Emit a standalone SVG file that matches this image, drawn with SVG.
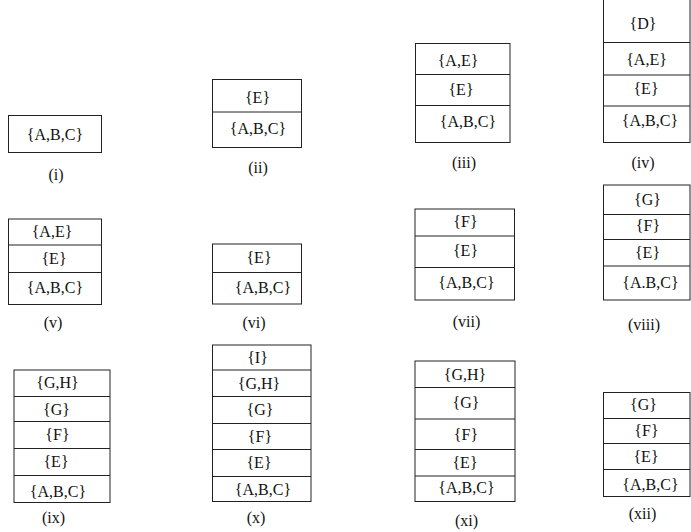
<svg xmlns="http://www.w3.org/2000/svg" width="691" height="532" viewBox="0 0 691 532" font-family="'Liberation Serif', 'Times New Roman', serif" font-size="16">
<style>
.b{fill:#fff;stroke:#222;stroke-width:1}
.d{stroke:#222;stroke-width:1}
text{font-family:"Liberation Serif","Times New Roman",serif;font-size:16px;fill:#111;text-anchor:middle}
</style>
<rect width="691" height="532" fill="#fff"/>
<g id="s1">
<rect class="b" x="8.5" y="115.5" width="93" height="37"/>
<text x="55" y="140">{A,B,C}</text>
<text x="56" y="180">(i)</text>
</g>
<g id="s2">
<rect class="b" x="212.5" y="79.5" width="89" height="68"/>
<line class="d" x1="212.5" y1="112" x2="301.5" y2="112"/>
<text x="257.5" y="103">{E}</text>
<text x="258" y="134">{A,B,C}</text>
<text x="258" y="173">(ii)</text>
</g>
<g id="s3">
<rect class="b" x="415.5" y="43.5" width="94.5" height="99"/>
<line class="d" x1="415.5" y1="74.5" x2="510" y2="74.5"/>
<line class="d" x1="415.5" y1="105.5" x2="510" y2="105.5"/>
<text x="458" y="66">{A,E}</text>
<text x="461" y="95">{E}</text>
<text x="468" y="127">{A,B,C}</text>
<text x="464" y="168">(iii)</text>
</g>
<g id="s4">
<rect class="b" x="603.5" y="-1" width="86.5" height="143.5"/>
<line class="d" x1="603.5" y1="42.5" x2="690" y2="42.5"/>
<line class="d" x1="603.5" y1="75" x2="690" y2="75"/>
<line class="d" x1="603.5" y1="106" x2="690" y2="106"/>
<text x="643" y="29">{D}</text>
<text x="646.5" y="65">{A,E}</text>
<text x="646" y="94">{E}</text>
<text x="650" y="126">{A,B,C}</text>
<text x="643" y="168">(iv)</text>
</g>
<g id="s5">
<rect class="b" x="8.5" y="219" width="93" height="85.5"/>
<line class="d" x1="8.5" y1="245" x2="101.5" y2="245"/>
<line class="d" x1="8.5" y1="272.5" x2="101.5" y2="272.5"/>
<text x="52" y="237">{A,E}</text>
<text x="54" y="264">{E}</text>
<text x="55" y="293">{A,B,C}</text>
<text x="53" y="328">(v)</text>
</g>
<g id="s6">
<rect class="b" x="212.5" y="244" width="89" height="60"/>
<line class="d" x1="212.5" y1="272.5" x2="301.5" y2="272.5"/>
<text x="259" y="263">{E}</text>
<text x="263" y="293">{A,B,C}</text>
<text x="254" y="328">(vi)</text>
</g>
<g id="s7">
<rect class="b" x="415" y="209" width="99.5" height="91"/>
<line class="d" x1="415" y1="236" x2="514.5" y2="236"/>
<line class="d" x1="415" y1="267.5" x2="514.5" y2="267.5"/>
<text x="465.5" y="227">{F}</text>
<text x="465.5" y="256">{E}</text>
<text x="466.5" y="288">{A,B,C}</text>
<text x="466.5" y="327">(vii)</text>
</g>
<g id="s8">
<rect class="b" x="603.5" y="185" width="86.5" height="115"/>
<line class="d" x1="603.5" y1="214.5" x2="690" y2="214.5"/>
<line class="d" x1="603.5" y1="239.5" x2="690" y2="239.5"/>
<line class="d" x1="603.5" y1="266" x2="690" y2="266"/>
<text x="647.5" y="205">{G}</text>
<text x="648" y="231">{F}</text>
<text x="647.5" y="258">{E}</text>
<text x="650.5" y="288">{A.B,C}</text>
<text x="644" y="330">(viii)</text>
</g>
<g id="s9">
<rect class="b" x="14" y="370" width="96" height="132.5"/>
<line class="d" x1="14" y1="396.5" x2="110" y2="396.5"/>
<line class="d" x1="14" y1="421.5" x2="110" y2="421.5"/>
<line class="d" x1="14" y1="448.5" x2="110" y2="448.5"/>
<line class="d" x1="14" y1="475.5" x2="110" y2="475.5"/>
<text x="57.5" y="388">{G,H}</text>
<text x="56.5" y="415">{G}</text>
<text x="57.5" y="440">{F}</text>
<text x="56" y="467">{E}</text>
<text x="58" y="497">{A,B,C}</text>
<text x="53.5" y="523">(ix)</text>
</g>
<g id="s10">
<rect class="b" x="212.5" y="345" width="98.5" height="156.5"/>
<line class="d" x1="212.5" y1="370" x2="311" y2="370"/>
<line class="d" x1="212.5" y1="396.5" x2="311" y2="396.5"/>
<line class="d" x1="212.5" y1="423.5" x2="311" y2="423.5"/>
<line class="d" x1="212.5" y1="449.5" x2="311" y2="449.5"/>
<line class="d" x1="212.5" y1="476.5" x2="311" y2="476.5"/>
<text x="257.5" y="363">{I}</text>
<text x="259" y="389">{G,H}</text>
<text x="260" y="415">{G}</text>
<text x="260" y="442">{F}</text>
<text x="259" y="468">{E}</text>
<text x="263" y="495">{A,B,C}</text>
<text x="256" y="523">(x)</text>
</g>
<g id="s11">
<rect class="b" x="415" y="361" width="100" height="140.5"/>
<line class="d" x1="415" y1="387.5" x2="515" y2="387.5"/>
<line class="d" x1="415" y1="419" x2="515" y2="419"/>
<line class="d" x1="415" y1="449.5" x2="515" y2="449.5"/>
<line class="d" x1="415" y1="476" x2="515" y2="476"/>
<text x="465" y="380">{G,H}</text>
<text x="466" y="408">{G}</text>
<text x="466" y="440">{F}</text>
<text x="465" y="468">{E}</text>
<text x="466.5" y="493">{A,B,C}</text>
<text x="466.5" y="526">(xi)</text>
</g>
<g id="s12">
<rect class="b" x="603.5" y="392.5" width="86.5" height="104"/>
<line class="d" x1="603.5" y1="418.5" x2="690" y2="418.5"/>
<line class="d" x1="603.5" y1="443.5" x2="690" y2="443.5"/>
<line class="d" x1="603.5" y1="469.5" x2="690" y2="469.5"/>
<text x="643.5" y="410">{G}</text>
<text x="646.5" y="436">{F}</text>
<text x="646" y="462">{E}</text>
<text x="650.5" y="490">{A,B,C}</text>
<text x="642.5" y="519">(xii)</text>
</g>
</svg>
